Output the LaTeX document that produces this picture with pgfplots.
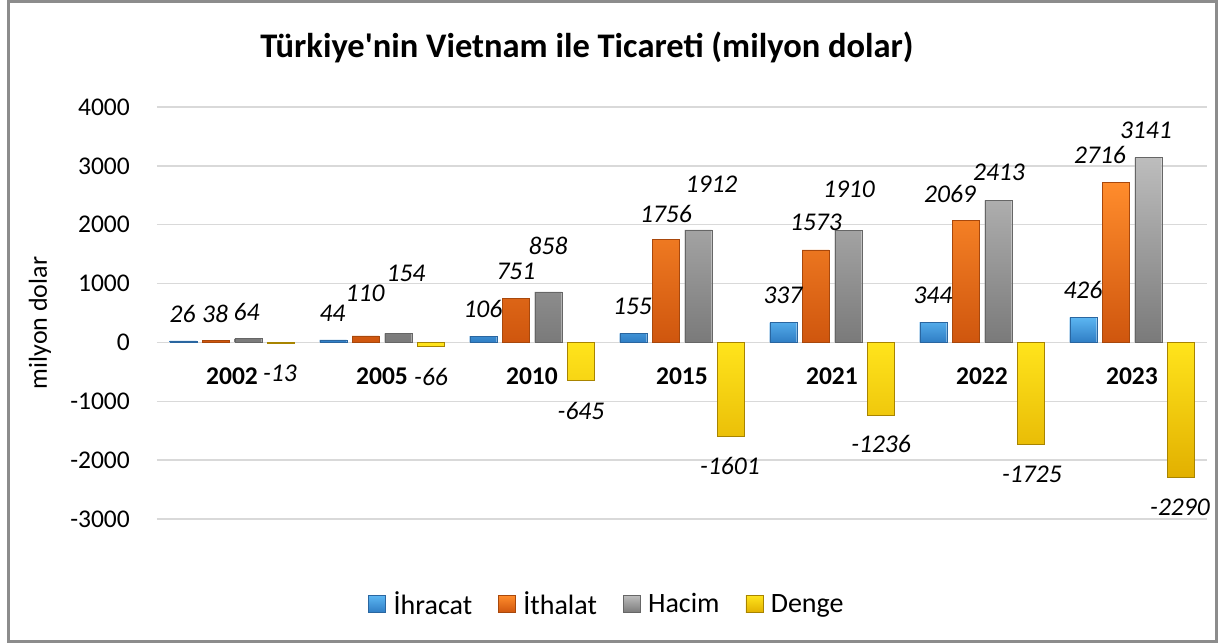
\documentclass[border=0pt]{standalone}
\usepackage{pgfplots}
\pgfplotsset{compat=1.18}
\usepackage{pgfplotstable}
\usepackage{fontspec}
\setmainfont{Carlito}[Ligatures=TeXOff]
\definecolor{bT}{HTML}{5CB6F2}\definecolor{bB}{HTML}{2F7DC4}\definecolor{bE}{HTML}{2A66A0}
\definecolor{oT}{HTML}{FF8C2C}\definecolor{oB}{HTML}{CF560E}\definecolor{oE}{HTML}{A8480C}
\definecolor{gT}{HTML}{BDBDBD}\definecolor{gB}{HTML}{7A7A7A}\definecolor{gE}{HTML}{666666}
\definecolor{yT}{HTML}{FFE41C}\definecolor{yB}{HTML}{E2B000}\definecolor{yE}{HTML}{A88400}
\definecolor{gridc}{HTML}{D9D9D9}
\definecolor{framec}{HTML}{8C8C8C}

\pgfplotstableread{
x v lx ly
0 26 -0.330 491
1 44 0.670 491
2 106 1.673 576
3 155 2.670 618
4 337 3.673 797
5 344 4.673 797
6 426 5.673 890
}\ihr
\pgfplotstableread{
x v lx ly
0 38 -0.113 491
1 110 0.887 839
2 751 1.893 1213
3 1756 2.893 2190
4 1573 3.893 2037
5 2069 4.787 2521
6 2716 5.787 3184
}\ith
\pgfplotstableread{
x v lx ly
0 64 0.097 525
1 154 1.160 1171
2 858 2.107 1638
3 1912 3.197 2691
4 1910 4.113 2606
5 2413 5.113 2887
6 3141 6.093 3609
}\hac
\pgfplotstableread{
x v lx ly
0 -13 0.320 -520
1 -66 1.327 -579
2 -645 2.327 -1166
3 -1601 3.320 -2100
4 -1236 4.327 -1726
5 -1725 5.333 -2236
6 -2290 6.320 -2797
}\den

\newcommand\lblfont{\itshape\fontsize{25.5}{30}\selectfont}
\pgfplotsset{
  lbl/.style={draw=none, mark=none, forget plot, nodes near coords,
    point meta=explicit symbolic,
    every node near coord/.append style={anchor=center, text=black, font=\lblfont}},
}

\begin{document}
\begin{tikzpicture}
\useasboundingbox (-157pt,-124pt) rectangle (1062pt,519pt);
\draw[framec, line width=3pt] (-148.5pt,-122.5pt) rectangle (1059.5pt,517.5pt);
\begin{axis}[
  at={(0pt,0pt)}, anchor=south west,
  width=1050pt, height=412pt, scale only axis,
  xmin=-0.5, xmax=6.5, ymin=-3000, ymax=4000,
  ytick={-3000,-2000,-1000,0,1000,2000,3000,4000},
  xtick={0,1,2,3,4,5,6},
  xticklabels={2002,2005,2010,2015,2021,2022,2023},
  axis x line=middle, axis y line=left,
  axis line style={draw=none},
  hide obscured x ticks=false, hide obscured y ticks=false,
  major tick length=0pt, tick style={draw=none},
  ymajorgrids, major grid style={gridc, line width=1.5pt},
  clip=false,
  /pgf/number format/assume math mode=true,
  scaled y ticks=false,
  yticklabel style={font=\fontsize{25.5}{30}\selectfont, anchor=east, inner sep=0pt, xshift=-27pt,
     /pgf/number format/1000 sep={}},
  xticklabel style={font=\bfseries\fontsize{25.5}{30}\selectfont, anchor=north, inner sep=0pt, yshift=-25pt},
  legend image code/.code={\draw[#1] (0pt,-8.5pt) rectangle (17pt,8.5pt);\pgfpathmoveto{\pgfqpoint{23pt}{0pt}}\pgfusepath{}},
  legend style={at={(0.4286,-0.2063)}, anchor=center, draw=none, fill=none,
    font=\fontsize{28}{32}\selectfont, legend columns=-1,
    /tikz/every even column/.append style={column sep=24pt}},
  legend cell align=left,
]
\addplot[ybar, bar width=27pt, bar shift=-48.75pt, draw=bE, top color=bT, bottom color=bB] table[x=x,y=v]{\ihr};
\addlegendentry{İhracat}
\addplot[ybar, bar width=27pt, bar shift=-16.25pt, draw=oE, top color=oT, bottom color=oB] table[x=x,y=v]{\ith};
\addlegendentry{İthalat}
\addplot[ybar, bar width=27pt, bar shift=16.25pt, draw=gE, top color=gT, bottom color=gB] table[x=x,y=v]{\hac};
\addlegendentry{Hacim}
\addplot[ybar, bar width=27pt, bar shift=48.75pt, draw=yE, top color=yT, bottom color=yB] table[x=x,y=v]{\den};
\addlegendentry{Denge}
\addplot[lbl] table[x=lx,y=ly,meta=v]{\ihr};
\addplot[lbl] table[x=lx,y=ly,meta=v]{\ith};
\addplot[lbl] table[x=lx,y=ly,meta=v]{\hac};
\addplot[lbl] table[x=lx,y=ly,meta=v]{\den};
\end{axis}
\node[font=\bfseries\fontsize{34.5}{40}\selectfont] at (430pt,472pt) {Türkiye'nin Vietnam ile Ticareti (milyon dolar)};
\node[rotate=90, font=\fontsize{26}{30}\selectfont] at (-117pt,196pt) {milyon dolar};
\end{tikzpicture}
\end{document}
